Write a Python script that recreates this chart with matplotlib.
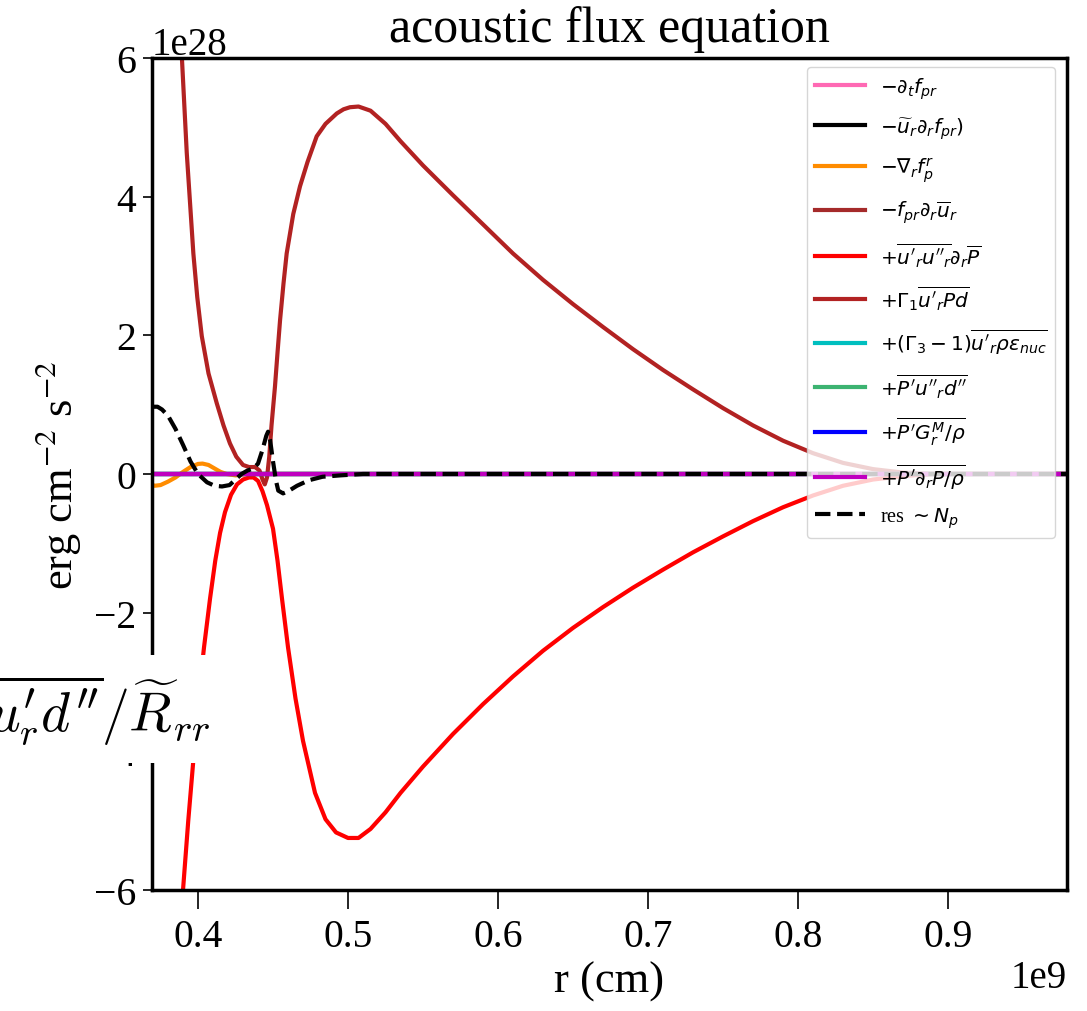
import matplotlib
matplotlib.use('Agg')
import matplotlib.pyplot as plt
import numpy as np

plt.rcParams['font.family'] = ['Liberation Serif', 'DejaVu Serif']
plt.rcParams['mathtext.fontset'] = 'dejavusans'

# values; r in 1e9 cm, terms in 1e28 erg cm^-2 s^-2
r_gam1 = [0.369, 0.375, 0.380, 0.385, 0.3891, 0.3925, 0.3969, 0.3995, 0.4025, 0.4070,
          0.4125, 0.4170, 0.4213, 0.4255, 0.4300, 0.4340, 0.4380, 0.4410, 0.4430,
          0.4445, 0.4460, 0.4475, 0.4490, 0.4513, 0.4530, 0.4547, 0.4570, 0.4591,
          0.4635, 0.4680, 0.4730, 0.4791, 0.4850, 0.4925, 0.4970, 0.5013, 0.5070,
          0.5150, 0.5250, 0.5350, 0.5500, 0.5700, 0.5900, 0.6100, 0.6300, 0.6500,
          0.6700, 0.6900, 0.7100, 0.7300, 0.7500, 0.7700, 0.7900, 0.8100, 0.8300,
          0.8500, 0.8700, 0.8900, 0.9800]
gam1 = [17.0, 13.5, 10.5, 8.0, 6.07, 4.63, 3.18, 2.55, 1.99, 1.45,
        1.02, 0.70, 0.44, 0.25, 0.13, 0.10, 0.10, 0.05, -0.08,
        -0.15, -0.05, 0.25, 0.70, 1.26, 1.75, 2.22, 2.75, 3.18,
        3.75, 4.15, 4.50, 4.87, 5.05, 5.20, 5.26, 5.29, 5.30,
        5.24, 5.05, 4.80, 4.45, 4.02, 3.60, 3.18, 2.80, 2.45,
        2.12, 1.80, 1.50, 1.22, 0.95, 0.70, 0.48, 0.30, 0.16,
        0.07, 0.02, 0.0, 0.0]

r_uup = [0.369, 0.380, 0.385, 0.390, 0.3935, 0.397, 0.400, 0.404, 0.408, 0.4115,
         0.4147, 0.418, 0.422, 0.426, 0.430, 0.434, 0.437, 0.440, 0.443, 0.446,
         0.450, 0.453, 0.456, 0.460, 0.465, 0.470, 0.478, 0.485, 0.492, 0.500,
         0.507, 0.515, 0.525, 0.535, 0.550, 0.570, 0.590, 0.610, 0.630, 0.650,
         0.670, 0.690, 0.710, 0.730, 0.750, 0.770, 0.790, 0.810, 0.830, 0.850,
         0.870, 0.890, 0.980]
uup = [-16.0, -10.5, -8.0, -6.0, -5.0, -4.1, -3.3, -2.5, -1.8, -1.25,
       -0.85, -0.55, -0.30, -0.15, -0.08, -0.05, -0.05, -0.10, -0.25, -0.45,
       -0.79, -1.25, -1.80, -2.50, -3.24, -3.85, -4.60, -4.98, -5.17, -5.25,
       -5.25, -5.12, -4.88, -4.60, -4.22, -3.75, -3.32, -2.92, -2.55, -2.22,
       -1.92, -1.64, -1.38, -1.13, -0.90, -0.68, -0.48, -0.31, -0.17, -0.08,
       -0.03, 0.0, 0.0]

r_div = [0.369, 0.371, 0.375, 0.380, 0.385, 0.390, 0.395, 0.400, 0.403, 0.407,
         0.411, 0.415, 0.419, 0.425, 0.432, 0.980]
div = [-0.15, -0.17, -0.16, -0.11, -0.05, 0.03, 0.10, 0.145, 0.15, 0.13,
       0.08, 0.03, 0.0, -0.02, 0.0, 0.0]

r_res = [0.369, 0.373, 0.376, 0.380, 0.385, 0.390, 0.395, 0.400, 0.406, 0.411,
         0.416, 0.421, 0.425, 0.429, 0.433, 0.437, 0.440, 0.443, 0.4455, 0.4467,
         0.448, 0.450, 0.452, 0.4535, 0.4567, 0.460, 0.466, 0.474, 0.483, 0.495,
         0.510, 0.980]
res = [0.97, 0.97, 0.93, 0.84, 0.65, 0.42, 0.18, 0.0, -0.12, -0.17,
       -0.18, -0.16, -0.08, 0.0, 0.05, 0.08, 0.15, 0.35, 0.55, 0.61,
       0.50, 0.18, -0.10, -0.24, -0.28, -0.25, -0.17, -0.09, -0.04, -0.02,
       0.0, 0.0]

r_flat = [0.369, 0.980]
zero = [0.0, 0.0]

fig = plt.figure(figsize=(10.87, 10.12), dpi=100)
ax = fig.add_axes([0.1398, 0.1196, 0.9816 - 0.1398, 0.9417 - 0.1196])

x = lambda v: np.array(v) * 1e9
y = lambda v: np.array(v) * 1e28
lw = 3

ax.plot(x(r_flat), y(zero), color='hotpink', lw=lw, label=r'$-\partial_t f_{pr}$')
ax.plot(x(r_flat), y(zero), color='k', lw=lw, label=r'$-\widetilde{u}_r \partial_r f_{pr})$')
ax.plot(x(r_div), y(div), color='darkorange', lw=lw, label=r'$-\nabla_r f_p^r$')
ax.plot(x(r_flat), y(zero), color='brown', lw=lw, label=r'$-f_{pr} \partial_r \overline{u}_r$')
ax.plot(x(r_uup), y(uup), color='r', lw=lw, label=r"$+\overline{u'_r u''_r} \partial_r \overline{P}$")
ax.plot(x(r_gam1), y(gam1), color='firebrick', lw=lw, label=r"$+\Gamma_1 \overline{u'_r P d}$")
ax.plot(x(r_flat), y(zero), color='c', lw=lw, label=r"$+(\Gamma_3 - 1)\overline{u'_r \rho \epsilon_{nuc}}$")
ax.plot(x(r_flat), y(zero), color='mediumseagreen', lw=lw, label=r"$+\overline{P' u''_r d''}$")
ax.plot(x(r_flat), y(zero), color='b', lw=lw, label=r"$+\overline{P' G^M_r / \rho}$")
ax.plot(x(r_flat), y(zero), color='m', lw=lw, label=r"$+\overline{P' \partial_r P / \rho}$")
ax.plot(x(r_res), y(res), color='k', lw=lw, ls='--', label=r'res $\sim N_p$')

ax.set_xlim(0.3693e9, 0.9793e9)
ax.set_ylim(-6e28, 6e28)
ax.set_xticks(x([0.4, 0.5, 0.6, 0.7, 0.8, 0.9]))
ax.set_yticks(y([-6, -4, -2, 0, 2, 4, 6]))
ax.ticklabel_format(axis='x', style='sci', scilimits=(9, 9))
for s in ax.spines.values():
    s.set_linewidth(2.5)
ax.tick_params(axis='both', labelsize=28.5, width=1.2)
ax.tick_params(axis='x', length=14, pad=6)
ax.tick_params(axis='y', length=6.5, pad=5)
ax.xaxis.get_offset_text().set_fontsize(28)
ax.yaxis.get_offset_text().set_fontsize(28)

ax.set_title('acoustic flux equation', fontsize=36, pad=12)
ax.set_xlabel('r (cm)', fontsize=32, labelpad=4)
ax.set_ylabel(r'erg cm$^{-2}$ s$^{-2}$', fontsize=32, labelpad=8, math_fontfamily='stix')

ax.legend(loc='upper right', bbox_to_anchor=(0.9869, 0.9892), borderaxespad=0,
          fontsize=14.5, labelspacing=0.72, handlelength=2.5, handletextpad=0.7)

# overlapping label from a neighbouring panel
fig.text(210 / 1087, 1 - 710 / 1012, r"$\overline{u^{\prime}_r d^{\prime\prime}}/\widetilde{R}_{rr}$",
         ha='right', va='center', fontsize=40, math_fontfamily='cm', zorder=10,
         bbox=dict(boxstyle='square,pad=0.3', fc='white', ec='none'))

plt.savefig('out.png', dpi=100)
